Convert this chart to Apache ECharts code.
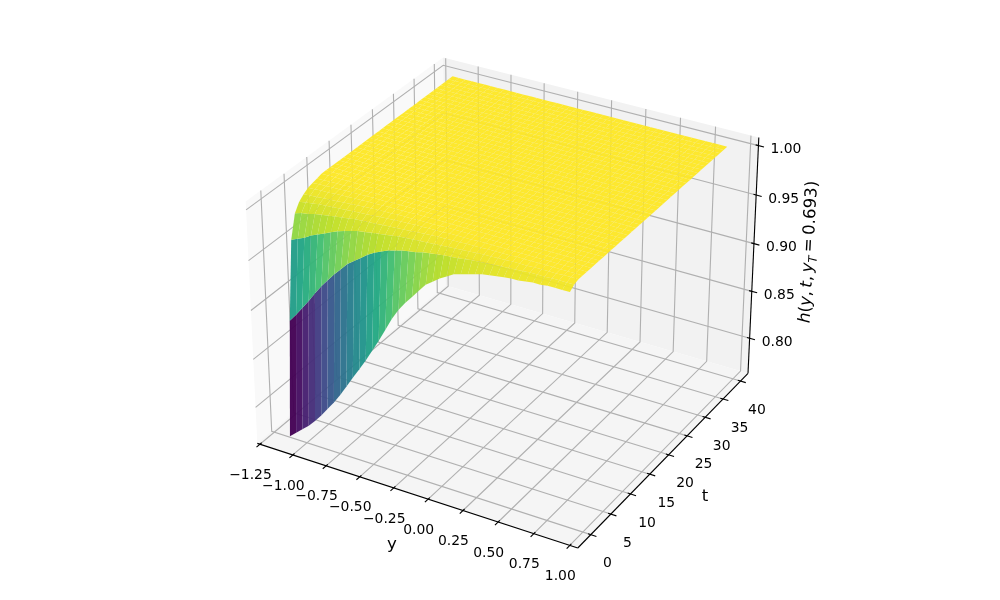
<!DOCTYPE html>
<html>
<head>
<meta charset="utf-8">
<title>h(y, t, y_T = 0.693)</title>
<script src="https://cdn.jsdelivr.net/npm/echarts@6/dist/echarts.min.js"></script>
<style>
  html, body { margin: 0; padding: 0; background: #fff; }
  #main { width: 1000px; height: 600px; }
</style>
</head>
<body>
<div id="main"></div>
<script>
// grid of the surface
const yValues = [-1.13, -1.081, -1.032, -0.982, -0.933, -0.884, -0.835, -0.785, -0.736, -0.687, -0.638, -0.588, -0.539, -0.49, -0.441, -0.391, -0.342, -0.293, -0.244, -0.194, -0.145, -0.096, -0.047, 0.003, 0.052, 0.101, 0.15, 0.2, 0.249, 0.298, 0.347, 0.397, 0.446, 0.495, 0.544, 0.594, 0.643, 0.692, 0.741, 0.791, 0.84, 0.891];
const tValues = [0, 1, 2, 3, 4, 5, 6, 7, 8, 9, 10, 11, 12, 13, 14, 15, 16, 17, 18, 19, 20, 21, 22, 23, 24, 25, 26, 27, 28, 29, 30, 31, 32, 33, 34, 35, 36, 37, 38, 39, 40];

const h0 = [0.763, 0.769, 0.775, 0.781, 0.788, 0.796, 0.805, 0.814, 0.824, 0.835, 0.846, 0.857, 0.868, 0.880, 0.892, 0.905, 0.918, 0.929, 0.938, 0.946, 0.954, 0.962, 0.967, 0.972, 0.976, 0.980, 0.982, 0.984, 0.986, 0.988, 0.989, 0.990, 0.991, 0.992, 0.992, 0.993, 0.994, 0.994, 0.995, 0.995, 0.995, 0.995];
const h1 = [0.880, 0.888, 0.897, 0.906, 0.916, 0.925, 0.933, 0.941, 0.948, 0.955, 0.960, 0.965, 0.970, 0.974, 0.977, 0.980, 0.982, 0.984, 0.985, 0.986, 0.988, 0.989, 0.990, 0.991, 0.9915, 0.992, 0.993, 0.994, 0.9945, 0.995, 0.9955, 0.996, 0.9965, 0.997, 0.9975, 0.998, 0.998, 0.998, 0.9985, 0.9985, 0.9985, 0.9985];
const h2 = [0.958, 0.961, 0.964, 0.968, 0.971, 0.974, 0.977, 0.980, 0.982, 0.984, 0.986, 0.987, 0.988, 0.989, 0.990, 0.991, 0.992, 0.9925, 0.993, 0.9935, 0.994, 0.9945, 0.995, 0.9955, 0.996, 0.9965, 0.997, 0.9975, 0.998, 0.998, 0.9985, 0.9985, 0.999, 0.999, 0.999, 0.9995, 0.9995, 0.9995, 0.9995, 1, 1, 1];
const h3 = [0.981, 0.983, 0.984, 0.986, 0.987, 0.988, 0.989, 0.990, 0.991, 0.992, 0.9925, 0.993, 0.9935, 0.994, 0.9945, 0.995, 0.9955, 0.996, 0.9965, 0.997, 0.9975, 0.998, 0.998, 0.9985, 0.9985, 0.999, 0.999, 0.999, 0.9995, 0.9995, 0.9995, 0.9995, 1, 1, 1, 1, 1, 1, 1, 1, 1, 1];
const h4 = [0.989, 0.990, 0.991, 0.992, 0.9925, 0.993, 0.9935, 0.994, 0.9945, 0.995, 0.9955, 0.996, 0.9965, 0.997, 0.9975, 0.998, 0.998, 0.9985, 0.9985, 0.999, 0.999, 0.999, 0.9995, 0.9995, 0.9995, 0.9995, 1, 1, 1, 1, 1, 1, 1, 1, 1, 1, 1, 1, 1, 1, 1, 1];
const h5 = [0.993, 0.9935, 0.994, 0.9945, 0.995, 0.9955, 0.996, 0.9965, 0.997, 0.9975, 0.998, 0.998, 0.9985, 0.9985, 0.999, 0.999, 0.999, 0.9995, 0.9995, 0.9995, 0.9995, 1, 1, 1, 1, 1, 1, 1, 1, 1, 1, 1, 1, 1, 1, 1, 1, 1, 1, 1, 1, 1];
const h6 = [0.996, 0.9965, 0.997, 0.997, 0.9975, 0.998, 0.998, 0.9985, 0.9985, 0.999, 0.999, 0.999, 0.9995, 0.9995, 0.9995, 0.9995, 1, 1, 1, 1, 1, 1, 1, 1, 1, 1, 1, 1, 1, 1, 1, 1, 1, 1, 1, 1, 1, 1, 1, 1, 1, 1];
const h7 = [0.9975, 0.998, 0.998, 0.9985, 0.9985, 0.999, 0.999, 0.999, 0.9995, 0.9995, 0.9995, 0.9995, 1, 1, 1, 1, 1, 1, 1, 1, 1, 1, 1, 1, 1, 1, 1, 1, 1, 1, 1, 1, 1, 1, 1, 1, 1, 1, 1, 1, 1, 1];
const h8 = [0.9985, 0.9985, 0.999, 0.999, 0.999, 0.9995, 0.9995, 0.9995, 0.9995, 1, 1, 1, 1, 1, 1, 1, 1, 1, 1, 1, 1, 1, 1, 1, 1, 1, 1, 1, 1, 1, 1, 1, 1, 1, 1, 1, 1, 1, 1, 1, 1, 1];
// everything from t = 9 on sits on the plateau
const hFlat = [1, 1, 1, 1, 1, 1, 1, 1, 1, 1, 1, 1, 1, 1, 1, 1, 1, 1, 1, 1, 1, 1, 1, 1, 1, 1, 1, 1, 1, 1, 1, 1, 1, 1, 1, 1, 1, 1, 1, 1, 1, 1];
const hRows = [h0, h1, h2, h3, h4, h5, h6, h7, h8];

const yTicks = [-1.25, -1.0, -0.75, -0.5, -0.25, 0, 0.25, 0.5, 0.75, 1.0];
const yTickLabels = ["\u22121.25", "\u22121.00", "\u22120.75", "\u22120.50", "\u22120.25", "0.00", "0.25", "0.50", "0.75", "1.00"];
const tTicks = [0, 5, 10, 15, 20, 25, 30, 35, 40];
const tTickLabels = ["0", "5", "10", "15", "20", "25", "30", "35", "40"];
const zTicks = [0.8, 0.85, 0.9, 0.95, 1.0];
const zTickLabels = ["0.80", "0.85", "0.90", "0.95", "1.00"];

const viridis = ["#440154", "#482475", "#414487", "#355f8d", "#2a788e", "#21918c", "#22a884", "#44bf70", "#7ad151", "#bddf26", "#fde725"];

// axis limits and camera, same setup as mplot3d (elev 30, azim -60, dist 10)
const yLim = [-1.27, 1.055];
const tLim = [-3.2, 42.2];
const zLim = [0.762, 1.008];
const boxL = 1.19, boxH = 0.893, dist = 10;
const U = [0.866, 0.5, 0], V = [-0.25, 0.433, 0.866], N = [0.433, -0.75, 0.5];
const scale = 3085, centerX = 507.2, centerY = 291;

function world(y, t, z) {
  return [
    boxL * ((y - yLim[0]) / (yLim[1] - yLim[0]) - 0.5),
    boxL * ((t - tLim[0]) / (tLim[1] - tLim[0]) - 0.5),
    boxH * ((z - zLim[0]) / (zLim[1] - zLim[0]) - 0.5)
  ];
}
const dot = (a, b) => a[0] * b[0] + a[1] * b[1] + a[2] * b[2];
function depth(y, t, z) {
  return dist - dot(world(y, t, z), N);
}
// view plane position, the hidden axes turn it into pixels
function proj(y, t, z) {
  const p = world(y, t, z), d = dist - dot(p, N);
  return [dot(p, U) / d, dot(p, V) / d];
}

const rowAt = (j) => hRows[j] || hFlat;

// surface cells, far ones first
const cells = [];
for (let j = 0; j < tValues.length - 1; j++) {
  for (let i = 0; i < yValues.length - 1; i++) {
    const avg = (rowAt(j)[i] + rowAt(j)[i + 1] + rowAt(j + 1)[i] + rowAt(j + 1)[i + 1]) / 4;
    const d = (depth(yValues[i], tValues[j], rowAt(j)[i]) + depth(yValues[i + 1], tValues[j], rowAt(j)[i + 1]) +
      depth(yValues[i], tValues[j + 1], rowAt(j + 1)[i]) + depth(yValues[i + 1], tValues[j + 1], rowAt(j + 1)[i + 1])) / 4;
    cells.push({ i, j, avg, d });
  }
}
cells.sort((a, b) => b.d - a.d);
const avgMin = Math.min(...cells.map((c) => c.avg));
const avgMax = Math.max(...cells.map((c) => c.avg));

const yMin = yLim[0], yMax = yLim[1], tMin = tLim[0], tMax = tLim[1], zMin = zLim[0], zMax = zLim[1];

const panes = [
  { fill: "#f9f9f9", pts: [[yMin, tMin, zMin], [yMin, tMax, zMin], [yMin, tMax, zMax], [yMin, tMin, zMax]] },
  { fill: "#f2f2f2", pts: [[yMin, tMax, zMin], [yMax, tMax, zMin], [yMax, tMax, zMax], [yMin, tMax, zMax]] },
  { fill: "#f5f5f5", pts: [[yMin, tMin, zMin], [yMax, tMin, zMin], [yMax, tMax, zMin], [yMin, tMax, zMin]] }
];

const gridPaths = [];
yTicks.forEach((y) => gridPaths.push([[y, tMin, zMin], [y, tMax, zMin], [y, tMax, zMax]]));
tTicks.forEach((t) => gridPaths.push([[yMax, t, zMin], [yMin, t, zMin], [yMin, t, zMax]]));
zTicks.forEach((z) => gridPaths.push([[yMin, tMin, z], [yMin, tMax, z], [yMax, tMax, z]]));

const tickDy = (yMax - yMin) / 12, tickDt = (tMax - tMin) / 12;
const blackPaths = [
  [[yMin, tMin, zMin], [yMax, tMin, zMin]],
  [[yMax, tMin, zMin], [yMax, tMax, zMin]],
  [[yMax, tMax, zMin], [yMax, tMax, zMax]]
];
yTicks.forEach((y) => blackPaths.push([[y, tMin + 0.1 * tickDt, zMin], [y, tMin - 0.2 * tickDt, zMin]]));
tTicks.forEach((t) => blackPaths.push([[yMax - 0.1 * tickDy, t, zMin], [yMax + 0.2 * tickDy, t, zMin]]));
zTicks.forEach((z) => blackPaths.push([[yMax - 0.1 * tickDy, tMax, z], [yMax + 0.2 * tickDy, tMax, z]]));

// tick label anchor + pixel offset from the tick
const texts = [];
yTicks.forEach((y, k) => texts.push({ at: [y, tMin, zMin], dx: -9.5, dy: 31, text: yTickLabels[k] }));
tTicks.forEach((t, k) => texts.push({ at: [yMax, t, zMin], dx: 16.5, dy: 29, text: tTickLabels[k] }));
zTicks.forEach((z, k) => texts.push({ at: [yMax, tMax, z], dx: 27.5, dy: 4, text: zTickLabels[k] }));

const FONT = "DejaVu Sans";
const pts = (api, list) => list.map((p) => api.coord(proj(p[0], p[1], p[2])));

const option = {
  animation: false,
  backgroundColor: "#ffffff",
  grid: { left: 0, right: 0, top: 0, bottom: 0, containLabel: false },
  xAxis: { type: "value", show: false, min: -centerX / scale, max: (1000 - centerX) / scale },
  yAxis: { type: "value", show: false, min: (centerY - 600) / scale, max: centerY / scale },
  series: [
    {
      type: "custom", coordinateSystem: "cartesian2d", silent: true, clip: false, z: 1,
      data: panes.map((p, k) => [k]),
      renderItem: (params, api) => {
        const pane = panes[params.dataIndex];
        return { type: "polygon", shape: { points: pts(api, pane.pts) }, style: { fill: pane.fill } };
      }
    },
    {
      type: "custom", coordinateSystem: "cartesian2d", silent: true, clip: false, z: 2,
      data: gridPaths.map((p, k) => [k]),
      renderItem: (params, api) => ({
        type: "polyline",
        shape: { points: pts(api, gridPaths[params.dataIndex]) },
        style: { fill: "none", stroke: "#b0b0b0", lineWidth: 1.11 }
      })
    },
    {
      type: "custom", coordinateSystem: "cartesian2d", silent: true, clip: false, z: 3,
      data: blackPaths.map((p, k) => [k]),
      renderItem: (params, api) => ({
        type: "polyline",
        shape: { points: pts(api, blackPaths[params.dataIndex]) },
        style: { fill: "none", stroke: "#000000", lineWidth: 1.11 }
      })
    },
    {
      type: "custom", coordinateSystem: "cartesian2d", silent: true, clip: false, z: 4, progressive: 0,
      data: cells.map((c, k) => [k]),
      renderItem: (params, api) => {
        const c = cells[params.dataIndex];
        const { i, j } = c;
        const color = echarts.color.lerp((c.avg - avgMin) / (avgMax - avgMin), viridis);
        return {
          type: "polygon",
          shape: {
            points: pts(api, [
              [yValues[i], tValues[j], rowAt(j)[i]],
              [yValues[i + 1], tValues[j], rowAt(j)[i + 1]],
              [yValues[i + 1], tValues[j + 1], rowAt(j + 1)[i + 1]],
              [yValues[i], tValues[j + 1], rowAt(j + 1)[i]]
            ])
          },
          style: { fill: color, opacity: 0.96 }
        };
      }
    },
    {
      type: "custom", coordinateSystem: "cartesian2d", silent: true, clip: false, z: 5,
      data: texts.map((p, k) => [k]),
      renderItem: (params, api) => {
        const t = texts[params.dataIndex];
        const p = pts(api, [t.at])[0];
        return {
          type: "text", x: p[0] + t.dx, y: p[1] + t.dy,
          style: { text: t.text, fontFamily: FONT, fontSize: 13.9, fill: "#000", align: "center", verticalAlign: "middle" }
        };
      }
    }
  ],
  graphic: [
    { type: "text", x: 392, y: 545, z: 10, style: { text: "y", fontFamily: FONT, fontSize: 16.67, fill: "#000", align: "center", verticalAlign: "middle" } },
    { type: "text", x: 705, y: 497, z: 10, style: { text: "t", fontFamily: FONT, fontSize: 16.67, fill: "#000", align: "center", verticalAlign: "middle" } },
    {
      type: "text", x: 809, y: 252, z: 10, rotation: 87 * Math.PI / 180,
      style: {
        text: "{i|h}{r|(}{i|y}{r|,\u2009}{i|t}{r|,\u2009}{i|y}{s|T}{r|\u2009=\u20090.693)}",
        fill: "#000", align: "center", verticalAlign: "middle",
        rich: {
          i: { fontFamily: FONT, fontSize: 16.67, fontStyle: "italic", lineHeight: 22 },
          r: { fontFamily: FONT, fontSize: 16.67, lineHeight: 22 },
          s: { fontFamily: FONT, fontSize: 11.7, fontStyle: "italic", lineHeight: 22, verticalAlign: "bottom" }
        }
      }
    }
  ]
};

var myChart = echarts.init(document.querySelector("#main"), null, { renderer: "canvas" });
myChart.setOption(option);
</script>
</body>
</html>
